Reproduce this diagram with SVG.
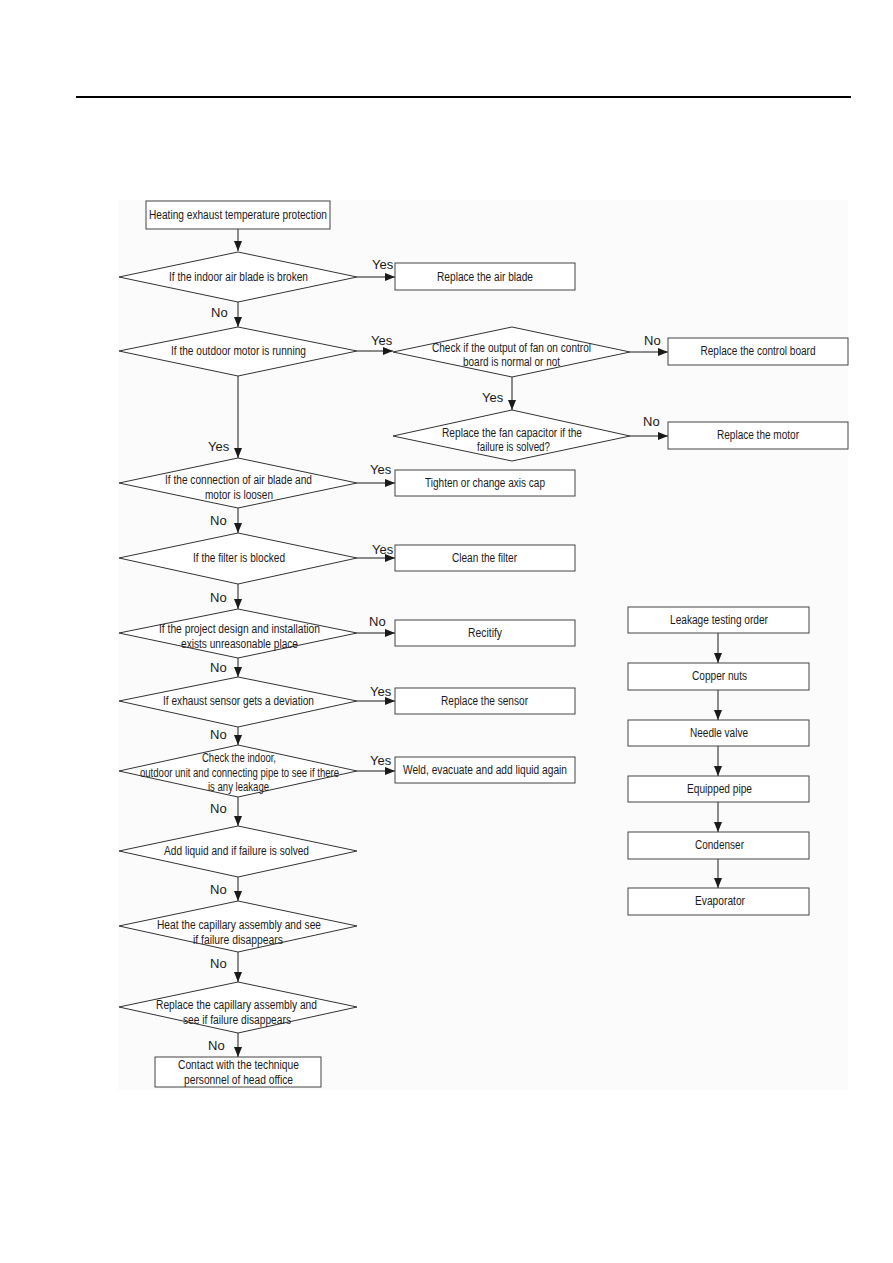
<svg xmlns="http://www.w3.org/2000/svg" width="893" height="1263" viewBox="0 0 893 1263">
<defs>
<marker id="arr" markerUnits="userSpaceOnUse" markerWidth="10" markerHeight="8" refX="10" refY="4" orient="auto">
<path d="M0,0 L10,4 L0,8 z" fill="#1a1a1a"/>
</marker>
<style>
.bx{fill:#fff;stroke:#444;stroke-width:1}
.dm{fill:#fff;stroke:#333;stroke-width:1}
.t{font-family:"Liberation Sans",Arial,sans-serif;font-size:12.5px;fill:#1a1a1a;text-anchor:middle}
.lb{font-family:"Liberation Sans",Arial,sans-serif;font-size:13px;fill:#1a1a1a}
.cn line{stroke:#1a1a1a;stroke-width:1;marker-end:url(#arr)}
</style>
</defs>
<rect width="893" height="1263" fill="#fff"/>
<rect x="118" y="200" width="730" height="890" fill="#fbfbfb"/>
<line x1="76" y1="97" x2="851" y2="97" stroke="#000" stroke-width="2.2"/>

<g id="connectors" class="cn">
<line x1="238" y1="229" x2="238" y2="251"/>
<line x1="357" y1="277" x2="395" y2="277"/>
<line x1="238" y1="302" x2="238" y2="327"/>
<line x1="357" y1="351" x2="393" y2="351"/>
<line x1="238" y1="376" x2="238" y2="458"/>
<line x1="630" y1="352" x2="668" y2="352"/>
<line x1="512" y1="377" x2="512" y2="410"/>
<line x1="630" y1="436" x2="668" y2="436"/>
<line x1="357" y1="483" x2="395" y2="483"/>
<line x1="238" y1="508" x2="238" y2="533"/>
<line x1="357" y1="558" x2="395" y2="558"/>
<line x1="238" y1="584" x2="238" y2="609"/>
<line x1="357" y1="633" x2="395" y2="633"/>
<line x1="238" y1="658" x2="238" y2="677"/>
<line x1="357" y1="701" x2="395" y2="701"/>
<line x1="238" y1="727" x2="238" y2="745"/>
<line x1="357" y1="771" x2="395" y2="771"/>
<line x1="238" y1="797" x2="238" y2="826"/>
<line x1="238" y1="877" x2="238" y2="901"/>
<line x1="238" y1="952" x2="238" y2="982"/>
<line x1="238" y1="1033" x2="238" y2="1057"/>
<line x1="718" y1="633" x2="718" y2="663"/>
<line x1="718" y1="690" x2="718" y2="720"/>
<line x1="718" y1="746" x2="718" y2="776"/>
<line x1="718" y1="802" x2="718" y2="832"/>
<line x1="718" y1="859" x2="718" y2="888"/>
</g>

<g id="labels">
<text class="lb" x="372" y="269">Yes</text>
<text class="lb" x="211" y="317">No</text>
<text class="lb" x="371" y="345">Yes</text>
<text class="lb" x="644" y="345">No</text>
<text class="lb" x="482" y="402">Yes</text>
<text class="lb" x="643" y="426">No</text>
<text class="lb" x="208" y="451">Yes</text>
<text class="lb" x="370" y="474">Yes</text>
<text class="lb" x="210" y="525">No</text>
<text class="lb" x="372" y="554">Yes</text>
<text class="lb" x="210" y="602">No</text>
<text class="lb" x="369" y="626">No</text>
<text class="lb" x="210" y="672">No</text>
<text class="lb" x="370" y="696">Yes</text>
<text class="lb" x="210" y="739">No</text>
<text class="lb" x="370" y="765">Yes</text>
<text class="lb" x="210" y="813">No</text>
<text class="lb" x="210" y="894">No</text>
<text class="lb" x="210" y="968">No</text>
<text class="lb" x="208" y="1050">No</text>
</g>

<g id="start"><rect class="bx" x="146" y="201" width="184" height="28"/><text class="t" x="238" y="219" textLength="178" lengthAdjust="spacingAndGlyphs">Heating exhaust temperature protection</text></g>

<g id="d1"><polygon class="dm" points="238,252 357,277 238,302 119,277"/><text class="t" x="238.5" y="281" textLength="139" lengthAdjust="spacingAndGlyphs">If the indoor air blade is broken</text></g>
<g id="b1"><rect class="bx" x="395" y="263" width="180" height="27"/><text class="t" x="485" y="281" textLength="96" lengthAdjust="spacingAndGlyphs">Replace the air blade</text></g>

<g id="d2"><polygon class="dm" points="238,327 357,351 238,376 119,351"/><text class="t" x="238.5" y="355" textLength="135" lengthAdjust="spacingAndGlyphs">If the outdoor motor is running</text></g>

<g id="d3"><polygon class="dm" points="512,327 630,352 512,377 393,352"/><text class="t" x="511.5" y="352" textLength="159" lengthAdjust="spacingAndGlyphs">Check if the output of fan on control</text><text class="t" x="511.5" y="366" textLength="97" lengthAdjust="spacingAndGlyphs">board is normal or not</text></g>
<g id="b3"><rect class="bx" x="668" y="338" width="180" height="27"/><text class="t" x="758" y="355" textLength="115" lengthAdjust="spacingAndGlyphs">Replace the control board</text></g>

<g id="d4"><polygon class="dm" points="512,410 630,436 512,461 393,436"/><text class="t" x="512" y="437" textLength="140" lengthAdjust="spacingAndGlyphs">Replace the fan capacitor if the</text><text class="t" x="513.5" y="451" textLength="73" lengthAdjust="spacingAndGlyphs">failure is solved?</text></g>
<g id="b4"><rect class="bx" x="668" y="422" width="180" height="27"/><text class="t" x="758" y="439" textLength="82" lengthAdjust="spacingAndGlyphs">Replace the motor</text></g>

<g id="d5"><polygon class="dm" points="238,458 357,483 238,508 119,483"/><text class="t" x="238.5" y="484" textLength="147" lengthAdjust="spacingAndGlyphs">If the connection of air blade and</text><text class="t" x="239" y="499" textLength="68" lengthAdjust="spacingAndGlyphs">motor is loosen</text></g>
<g id="b5"><rect class="bx" x="395" y="470" width="180" height="26"/><text class="t" x="485" y="487" textLength="120" lengthAdjust="spacingAndGlyphs">Tighten or change axis cap</text></g>

<g id="d6"><polygon class="dm" points="238,533 357,558 238,584 119,558"/><text class="t" x="239" y="562" textLength="92" lengthAdjust="spacingAndGlyphs">If the filter is blocked</text></g>
<g id="b6"><rect class="bx" x="395" y="545" width="180" height="26"/><text class="t" x="484.5" y="562" textLength="65" lengthAdjust="spacingAndGlyphs">Clean the filter</text></g>

<g id="d7"><polygon class="dm" points="238,609 357,633 238,658 119,633"/><text class="t" x="239.5" y="633" textLength="161" lengthAdjust="spacingAndGlyphs">If the project design and installation</text><text class="t" x="239.5" y="648" textLength="117" lengthAdjust="spacingAndGlyphs">exists unreasonable place</text></g>
<g id="b7"><rect class="bx" x="395" y="620" width="180" height="26"/><text class="t" x="485" y="637" textLength="34" lengthAdjust="spacingAndGlyphs">Recitify</text></g>

<g id="d8"><polygon class="dm" points="238,677 357,701 238,727 119,701"/><text class="t" x="238.5" y="705" textLength="151" lengthAdjust="spacingAndGlyphs">If exhaust sensor gets a deviation</text></g>
<g id="b8"><rect class="bx" x="395" y="688" width="180" height="26"/><text class="t" x="484.5" y="705" textLength="87" lengthAdjust="spacingAndGlyphs">Replace the sensor</text></g>

<g id="d9"><polygon class="dm" points="238,745 357,771 238,797 119,771"/><text class="t" x="239" y="762" textLength="74" lengthAdjust="spacingAndGlyphs">Check the indoor,</text><text class="t" x="239.5" y="777" textLength="199" lengthAdjust="spacingAndGlyphs">outdoor unit and connecting pipe to see if there</text><text class="t" x="238.5" y="791" textLength="61" lengthAdjust="spacingAndGlyphs">is any leakage</text></g>
<g id="b9"><rect class="bx" x="395" y="757" width="180" height="26"/><text class="t" x="485" y="774" textLength="164" lengthAdjust="spacingAndGlyphs">Weld, evacuate and add liquid again</text></g>

<g id="d10"><polygon class="dm" points="238,826 357,851 238,877 119,851"/><text class="t" x="236.5" y="855" textLength="145" lengthAdjust="spacingAndGlyphs">Add liquid and if failure is solved</text></g>

<g id="d11"><polygon class="dm" points="238,901 357,926 238,952 119,926"/><text class="t" x="239" y="929" textLength="164" lengthAdjust="spacingAndGlyphs">Heat the capillary assembly and see</text><text class="t" x="238" y="944" textLength="90" lengthAdjust="spacingAndGlyphs">if failure disappears</text></g>

<g id="d12"><polygon class="dm" points="238,982 357,1007 238,1033 119,1007"/><text class="t" x="236.5" y="1009" textLength="161" lengthAdjust="spacingAndGlyphs">Replace the capillary assembly and</text><text class="t" x="237" y="1024" textLength="108" lengthAdjust="spacingAndGlyphs">see if failure disappears</text></g>

<g id="end"><rect class="bx" x="155" y="1057" width="166" height="30"/><text class="t" x="238.5" y="1069" textLength="121" lengthAdjust="spacingAndGlyphs">Contact with the technique</text><text class="t" x="238.5" y="1084" textLength="109" lengthAdjust="spacingAndGlyphs">personnel of head office</text></g>

<g id="r1"><rect class="bx" x="628" y="607" width="181" height="26"/><text class="t" x="719" y="624" textLength="98" lengthAdjust="spacingAndGlyphs">Leakage testing order</text></g>
<g id="r2"><rect class="bx" x="628" y="663" width="181" height="27"/><text class="t" x="719.5" y="680" textLength="55" lengthAdjust="spacingAndGlyphs">Copper nuts</text></g>
<g id="r3"><rect class="bx" x="628" y="720" width="181" height="26"/><text class="t" x="719" y="737" textLength="58" lengthAdjust="spacingAndGlyphs">Needle valve</text></g>
<g id="r4"><rect class="bx" x="628" y="776" width="181" height="26"/><text class="t" x="719.5" y="793" textLength="65" lengthAdjust="spacingAndGlyphs">Equipped pipe</text></g>
<g id="r5"><rect class="bx" x="628" y="832" width="181" height="27"/><text class="t" x="719.5" y="849" textLength="49" lengthAdjust="spacingAndGlyphs">Condenser</text></g>
<g id="r6"><rect class="bx" x="628" y="888" width="181" height="27"/><text class="t" x="720" y="905" textLength="50" lengthAdjust="spacingAndGlyphs">Evaporator</text></g>
</svg>
